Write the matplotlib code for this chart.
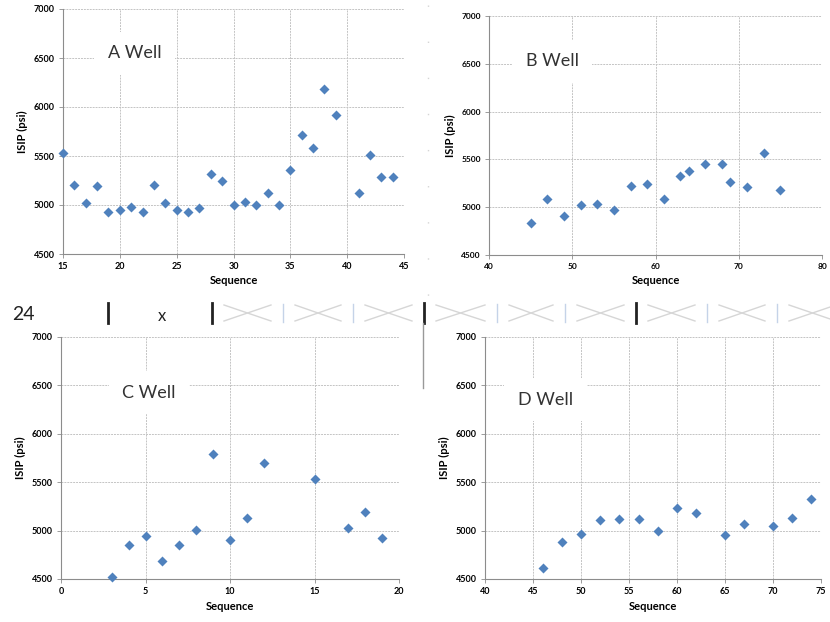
import matplotlib.pyplot as plt
from matplotlib.lines import Line2D

plt.rcParams['font.family'] = ['Lato', 'DejaVu Sans']

# ISIP readings per well (sequence number, psi)
a_seq = [15, 16, 17, 18, 19, 20, 21, 22, 23, 24, 25, 26, 27, 28, 29, 30, 31, 32, 33, 34,
         35, 36, 37, 38, 39, 41, 42, 43, 44]
a_isip = [5530, 5205, 5025, 5190, 4925, 4952, 4983, 4932, 5201, 5020, 4946, 4925, 4973,
          5313, 5245, 5000, 5031, 5000, 5126, 4997, 5361, 5714, 5578, 6180, 5915, 5122,
          5510, 5289, 5289]

b_seq = [45, 47, 49, 51, 53, 55, 57, 59, 61, 63, 64, 66, 68, 69, 71, 73, 75]
b_isip = [4838, 5082, 4911, 5019, 5037, 4974, 5222, 5239, 5082, 5326, 5375, 5455, 5448,
          5260, 5211, 5570, 5183]

c_seq = [3, 4, 5, 6, 7, 8, 9, 10, 11, 12, 15, 17, 18, 19]
c_isip = [4517, 4851, 4941, 4689, 4848, 5010, 5795, 4899, 5127, 5698, 5533, 5023, 5189, 4924]

d_seq = [46, 48, 50, 52, 54, 56, 58, 60, 62, 65, 67, 70, 72, 74]
d_isip = [4617, 4882, 4961, 5113, 5123, 5116, 4996, 5230, 5182, 4951, 5072, 5044, 5127, 5326]

W, H = 830, 622
BLUE = '#4F81BD'

fig = plt.figure(figsize=(W / 100, H / 100), dpi=100)

# background layer in pixel coordinates for the scanned-page leftovers
bg = fig.add_axes([0, 0, 1, 1], zorder=-1)
bg.set_xlim(0, W)
bg.set_ylim(H, 0)
bg.axis('off')

bg.text(12, 315, '24', fontsize=14, va='center', ha='left', color='#222222')
bg.text(162, 316, 'x', fontsize=12, va='center', ha='center', color='#222222')
for xb in [108, 212, 424, 636]:
    bg.add_line(Line2D([xb, xb], [303, 323], color='#222222', lw=2))
for xb in [283, 353, 497, 565, 707, 777]:
    bg.add_line(Line2D([xb, xb], [304, 322], color='#c5d3e8', lw=1))
dividers = [212, 283, 353, 424, 497, 565, 636, 707, 777, 848]
for x0, x1 in zip(dividers[:-1], dividers[1:]):
    l, r = x0 + 12, x1 - 12
    bg.add_line(Line2D([l, r], [305, 321], color='#d6d6d6', lw=1))
    bg.add_line(Line2D([l, r], [321, 305], color='#d6d6d6', lw=1))
bg.add_line(Line2D([423, 423], [323, 388], color='#999999', lw=1))
bg.add_line(Line2D([428, 428], [5, 300], color='#d5d5d5', lw=1, ls=(0, (1, 25))))


def panel(box, seq, isip, xlim, xstep, label, label_xy, tick_fs=6.5):
    left, top, right, bottom = box
    ax = fig.add_axes([left / W, (H - bottom) / H, (right - left) / W, (bottom - top) / H])
    ax.scatter(seq, isip, marker='D', s=26, color=BLUE, linewidths=0, zorder=3, clip_on=False)
    ax.set_xlim(*xlim)
    ax.set_ylim(4500, 7000)
    ax.set_xticks(range(xlim[0], xlim[1] + 1, xstep))
    ax.set_yticks(range(4500, 7001, 500))
    ax.grid(True, color='#c4c4c4', lw=0.7, ls=(0, (2, 1)))
    ax.set_axisbelow(True)
    for s in ['top', 'right']:
        ax.spines[s].set_visible(False)
    for s in ['left', 'bottom']:
        ax.spines[s].set_color('#8c8c8c')
        ax.spines[s].set_linewidth(0.8)
    ax.tick_params(direction='out', length=3, width=0.6, color='#8c8c8c',
                   labelsize=tick_fs, pad=3)
    for t in ax.get_xticklabels() + ax.get_yticklabels():
        t.set_fontweight('bold')
    ax.set_xlabel('Sequence', fontsize=8, fontweight='bold', labelpad=3)
    ax.set_ylabel('ISIP (psi)', fontsize=8, fontweight='bold', labelpad=4)
    ax.text(label_xy[0], label_xy[1], label, transform=ax.transAxes, fontsize=13,
            ha='center', va='center', color='#333333',
            bbox=dict(boxstyle='square,pad=0.75', facecolor='white', edgecolor='none'))
    return ax


panel((63, 9, 404, 254), a_seq, a_isip, (15, 45), 5, 'A Well', (0.21, 0.82))
panel((489, 16, 822, 255), b_seq, b_isip, (40, 80), 10, 'B Well', (0.19, 0.81), tick_fs=6)
panel((61, 337, 399, 579), c_seq, c_isip, (0, 20), 5, 'C Well', (0.26, 0.77))
panel((485, 337, 821, 579), d_seq, d_isip, (40, 75), 5, 'D Well', (0.18, 0.74))

fig.savefig('out.png', dpi=100)
